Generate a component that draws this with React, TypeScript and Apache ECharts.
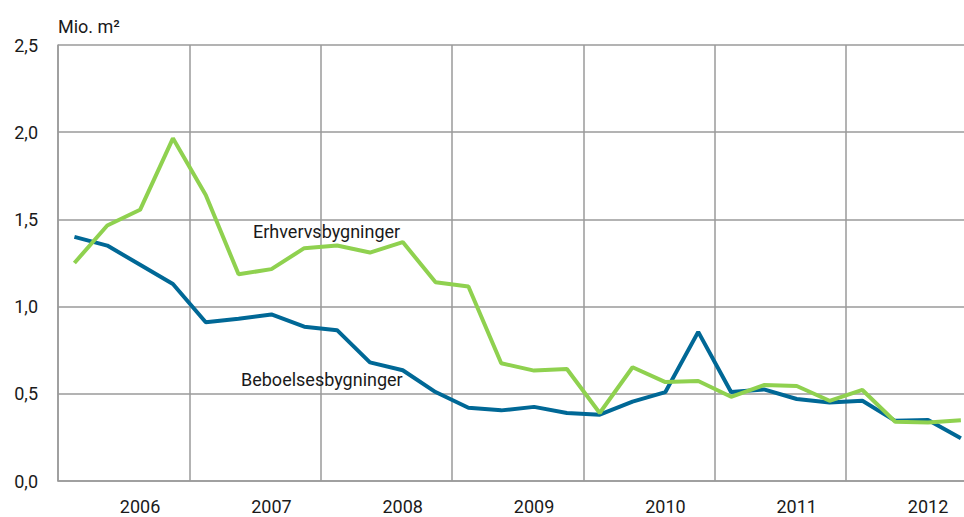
import React, { useEffect, useRef } from "react";
import * as echarts from "echarts";

const years = ["2006", "2007", "2008", "2009", "2010", "2011", "2012"];
const quarters = ["K1", "K2", "K3", "K4"];
const categories: string[] = years.flatMap((y) => quarters.map((q) => `${y} ${q}`));

const beboelse = [
  1.40, 1.35, 1.24, 1.13,
  0.91, 0.93, 0.955, 0.885,
  0.865, 0.68, 0.635, 0.51,
  0.42, 0.405, 0.425, 0.39,
  0.38, 0.455, 0.51, 0.855,
  0.51, 0.525, 0.47, 0.45,
  0.46, 0.345, 0.35, 0.245,
];

const erhverv = [
  1.25, 1.465, 1.555, 1.965,
  1.64, 1.185, 1.215, 1.335,
  1.35, 1.31, 1.37, 1.14,
  1.115, 0.675, 0.633, 0.642,
  0.39, 0.652, 0.567, 0.573,
  0.483, 0.55, 0.545, 0.46,
  0.522, 0.34, 0.336, 0.348,
];

const yTicks = [0, 0.5, 1, 1.5, 2, 2.5];
const FONT = "Roboto, sans-serif";
const GRID = "#9a9a9a";
const TEXT = "#1a1a1a";

export default function App() {
  const ref = useRef<HTMLDivElement>(null);
  useEffect(() => {
    if (!ref.current) return;
    const chart = echarts.init(ref.current, undefined, { renderer: "svg" });
    chart.setOption({
      animation: false,
      textStyle: { fontFamily: FONT },
      grid: { left: 58, top: 45, bottom: 36, right: 0.7, containLabel: false },
      xAxis: {
        type: "category",
        data: categories,
        boundaryGap: true,
        axisLine: { show: true, lineStyle: { color: GRID, width: 1.5 } },
        axisTick: { show: false },
        axisLabel: {
          interval: (i: number) => i % 4 === 2,
          formatter: (v: string) => v.slice(0, 4),
          color: TEXT,
          fontSize: 18,
          fontFamily: FONT,
          margin: 16,
        },
        splitLine: {
          show: true,
          interval: (i: number) => i % 4 === 0,
          lineStyle: { color: GRID, width: 1.5 },
        },
      },
      yAxis: {
        type: "value",
        min: yTicks[0],
        max: yTicks[yTicks.length - 1],
        interval: 0.5,
        name: "Mio. m²",
        nameLocation: "end",
        nameGap: 10,
        nameTextStyle: {
          align: "left",
          verticalAlign: "bottom",
          fontSize: 18,
          color: TEXT,
          fontFamily: FONT,
        },
        axisLine: { show: true, lineStyle: { color: GRID, width: 1.5 } },
        axisTick: { show: false },
        axisLabel: {
          formatter: (v: number) => v.toFixed(1).replace(".", ","),
          color: TEXT,
          fontSize: 18,
          fontFamily: FONT,
          margin: 20,
        },
        splitLine: { show: true, lineStyle: { color: GRID, width: 1.5 } },
      },
      graphic: [
        {
          type: "text",
          left: 253,
          top: 222,
          style: { text: "Erhvervsbygninger", fontSize: 18, fontFamily: FONT, fill: TEXT },
          z: 10,
        },
        {
          type: "text",
          left: 241,
          top: 370,
          style: { text: "Beboelsesbygninger", fontSize: 18, fontFamily: FONT, fill: TEXT },
          z: 10,
        },
      ],
      series: [
        {
          name: "Beboelsesbygninger",
          type: "line",
          data: beboelse,
          symbol: "none",
          lineStyle: { color: "#006896", width: 4 },
          z: 2,
        },
        {
          name: "Erhvervsbygninger",
          type: "line",
          data: erhverv,
          symbol: "none",
          lineStyle: { color: "#8fd14f", width: 4 },
          z: 3,
        },
      ],
    });
    return () => chart.dispose();
  }, []);
  return (
    <div
      style={{
        position: "absolute",
        left: 0,
        top: 0,
        width: 964,
        height: 517,
        overflow: "hidden",
      }}
    >
      <div ref={ref} style={{ width: 978, height: 517 }} />
    </div>
  );
}
